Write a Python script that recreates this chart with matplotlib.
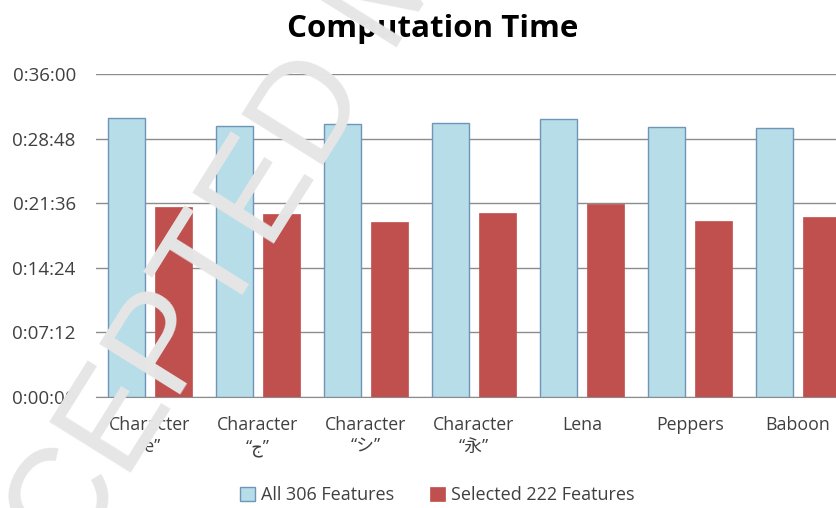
import matplotlib
matplotlib.use("Agg")
import matplotlib.pyplot as plt
from matplotlib.ticker import FuncFormatter, MultipleLocator
import numpy as np

plt.rcParams['font.family'] = ['Open Sans', 'Noto Sans CJK JP', 'DejaVu Sans']

# 数据（时间格式 h:mm:ss）
categories = ['Character\n\u201ce\u201d', 'Character\n\u201c\u062c\u201d', 'Character\n\u201c\u30b7\u201d',
              'Character\n\u201c\u6c38\u201d', 'Lena', 'Peppers', 'Baboon']
all_times = ['0:31:06', '0:30:14', '0:30:26', '0:30:29', '0:30:57', '0:30:06', '0:29:59']
sel_times = ['0:21:13', '0:20:22', '0:19:32', '0:20:30', '0:21:31', '0:19:39', '0:20:02']
series_names = ['All 306 Features', 'Selected 222 Features']


def to_sec(s):
    h, m, sec = [int(v) for v in s.split(':')]
    return h * 3600 + m * 60 + sec


def fmt(v, pos):
    v = int(round(v))
    return '%d:%02d:%02d' % (v // 3600, (v % 3600) // 60, v % 60)


all_sec = [to_sec(t) for t in all_times]
sel_sec = [to_sec(t) for t in sel_times]

fig = plt.figure(figsize=(8.36, 5.08), dpi=100)
ax = fig.add_axes([96 / 836, 1 - 397 / 508, 756 / 836, 323 / 508])

x = np.arange(len(categories))
w = 0.34
ax.bar(x - 0.215, all_sec, w, color='#b7dde8', edgecolor='#6f95b8', linewidth=1.0,
       label=series_names[0], zorder=3)
ax.bar(x + 0.215, sel_sec, w, color='#c0504d', edgecolor='#c0504d', linewidth=0.5,
       label=series_names[1], zorder=3)

ax.set_xlim(-0.5, len(categories) - 0.5)
ax.set_ylim(0, 2160)
ax.yaxis.set_major_locator(MultipleLocator(432))
ax.yaxis.set_major_formatter(FuncFormatter(fmt))
ax.grid(axis='y', color='#8c8c8c', linewidth=1, zorder=0)
for s in ['top', 'right', 'left']:
    ax.spines[s].set_visible(False)
ax.spines['bottom'].set_color('#8c8c8c')
ax.tick_params(axis='y', length=0, pad=14.5, labelsize=13.5, labelcolor='#404040')
ax.tick_params(axis='x', length=0, pad=14, labelsize=12.8, labelcolor='#404040')
ax.set_xticks(x)
ax.set_xticklabels(categories, linespacing=1.25)

fig.text(433 / 836, 1 - 29 / 508, 'Computation Time', ha='center', va='center',
         fontsize=22.5, fontweight='bold', color='black')

fig.legend(loc='center', bbox_to_anchor=(437 / 836, 1 - 495 / 508), ncol=2,
           frameon=False, fontsize=13, handlelength=0.85, handleheight=0.85,
           handletextpad=0.3, columnspacing=2.0, labelcolor='#404040')

# 水印
fig.text(-30 / 836, 1 - 730 / 508, 'ACCEPTED MANUSCRIPT', rotation=58, rotation_mode='anchor',
         ha='left', va='baseline', fontsize=100, color='#e6e6e6',
         family='Liberation Sans', zorder=10)

fig.savefig('out.png', dpi=100)
